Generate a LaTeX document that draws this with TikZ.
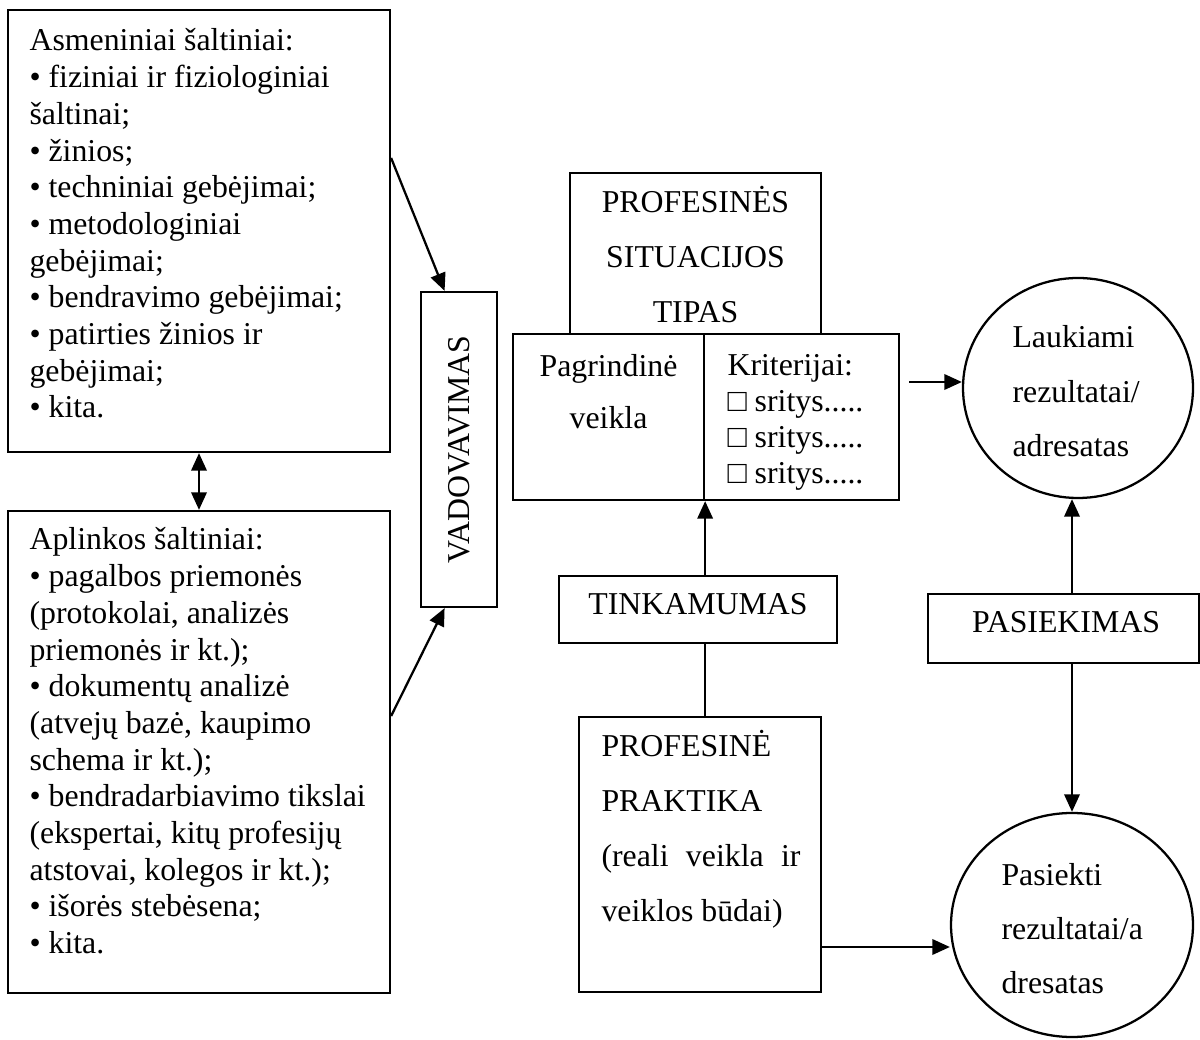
\documentclass[tikz,border=0pt]{standalone}
\usepackage{fontspec}
\setmainfont{Liberation Serif}
\usetikzlibrary{arrows.meta,shapes.geometric,fit,calc}
\newcommand\Lblock[2]{\vtop{\baselineskip=#1\lineskiplimit=-100pt\relax #2}}
\newcommand\Cblock[2]{\vtop{\baselineskip=#1\lineskiplimit=-100pt\relax\halign{\hfil##\hfil\cr #2}}}
\begin{document}
\begin{tikzpicture}[x=0.375pt,y=-0.375pt,
  box/.style={draw, line width=0.85pt, inner sep=0pt},
  ell/.style={draw, ellipse, line width=0.85pt, inner sep=0pt},
  txt/.style={inner sep=0pt, font=\fontsize{11.93}{13.76}\selectfont},
  arr/.style={line width=0.85pt, -{Triangle[length=6.6pt,width=5.8pt]}},
  darr/.style={line width=0.85pt, {Triangle[length=6.6pt,width=5.8pt]}-{Triangle[length=6.6pt,width=5.8pt]}},
  ln/.style={line width=0.85pt}]
\fill[white] (0,0) rectangle (1200,1040);
\useasboundingbox (0,0) rectangle (1200,1040);

% boxes
\node[box, fit={(8,10) (390,452)}] (b1) {};
\node[box, fit={(8,511) (390,993)}] (b2) {};
\node[box, fit={(421,292) (497,607)}] (vad) {};
\node[box, fit={(570,173) (821,334)}] (pst) {};
\node[box, fit={(513,334) (704,500)}] (pv) {};
\node[box, fit={(704,334) (899,500)}] (kr) {};
\node[box, fit={(559,576) (837,643)}] (tink) {};
\node[box, fit={(579,717) (821,992)}] (pp) {};
\node[box, fit={(928,594) (1199,663)}] (pas) {};
\node[ell, minimum width=86.25pt, minimum height=82.5pt] (l1) at (1078,388) {};
\node[ell, minimum width=90.75pt, minimum height=84pt] (l2) at (1072,925) {};

% texts
\node[txt, anchor=base west] (t1) at (29,51) {\Lblock{13.76pt}{%
\hbox{Asmeniniai šaltiniai:}
\hbox{• fiziniai ir fiziologiniai}
\hbox{šaltinai;}
\hbox{• žinios;}
\hbox{• techniniai gebėjimai;}
\hbox{• metodologiniai}
\hbox{gebėjimai;}
\hbox{• bendravimo gebėjimai;}
\hbox{• patirties žinios ir}
\hbox{gebėjimai;}
\hbox{• kita.}}};
\node[txt, anchor=base west] (t2) at (29,550) {\Lblock{13.76pt}{%
\hbox{Aplinkos šaltiniai:}
\hbox{• pagalbos priemonės}
\hbox{(protokolai, analizės}
\hbox{priemonės ir kt.);}
\hbox{• dokumentų analizė}
\hbox{(atvejų bazė, kaupimo}
\hbox{schema ir kt.);}
\hbox{• bendradarbiavimo tikslai}
\hbox{(ekspertai, kitų profesijų}
\hbox{atstovai, kolegos ir kt.);}
\hbox{• išorės stebėsena;}
\hbox{• kita.}}};
\node[txt, rotate=90] (tv) at (vad.center) {VADOVAVIMAS};
\node[txt, anchor=base] (tp) at (695.5,213) {\Cblock{20.6pt}{PROFESINĖS\cr SITUACIJOS\cr TIPAS\cr}};
\node[txt, anchor=base] (tpv) at (608.5,377) {\Cblock{19.5pt}{Pagrindinė\cr veikla\cr}};
\node[txt, anchor=base west] (tkr) at (727,376) {\Lblock{13.4pt}{%
\hbox{Kriterijai:}
\hbox{□ sritys.....}
\hbox{□ sritys.....}
\hbox{□ sritys.....}}};
\node[txt, anchor=base] (tt) at (698,615) {TINKAMUMAS};
\node[txt, anchor=base] (tpa) at (1066,633) {PASIEKIMAS};
\node[txt, anchor=base west] (tpp) at (601,757) {\Lblock{20.6pt}{%
\hbox{PROFESINĖ}
\hbox{PRAKTIKA}
\hbox to 74.6pt{(reali\hfill veikla\hfill ir}
\hbox{veiklos būdai)}}};
\node[txt, anchor=base west] (tl1) at (1012,348) {\Lblock{20.4pt}{%
\hbox{Laukiami}
\hbox{rezultatai/}
\hbox{adresatas}}};
\node[txt, anchor=base west] (tl2) at (1001,885) {\Lblock{20.4pt}{%
\hbox{Pasiekti}
\hbox{rezultatai/a}
\hbox{dresatas}}};

% connectors
\draw[arr] (b1.east |- 0,158) -- ($(vad.north west)!0.316!(vad.north east)$);
\draw[arr] (b2.east |- 0,716) -- ($(vad.south west)!0.316!(vad.south east)$);
\draw[darr] (b1.south) -- (b2.north);
\draw[arr] (tink.north -| pv.south east) -- (pv.south east);
\draw[ln] (tink.south -| pv.south east) -- (pp.north -| pv.south east);
\draw[arr] ($(kr.east |- 0,382)+(9,0)$) -- (l1.west |- 0,382);
\draw[arr] (pas.north -| 1072,0) -- (l1.south -| 1072,0);
\draw[arr] (pas.south -| l2.north) -- (l2.north);
\draw[arr] (pp.east |- 0,947) -- (l2.west |- 0,947);
\end{tikzpicture}
\end{document}
